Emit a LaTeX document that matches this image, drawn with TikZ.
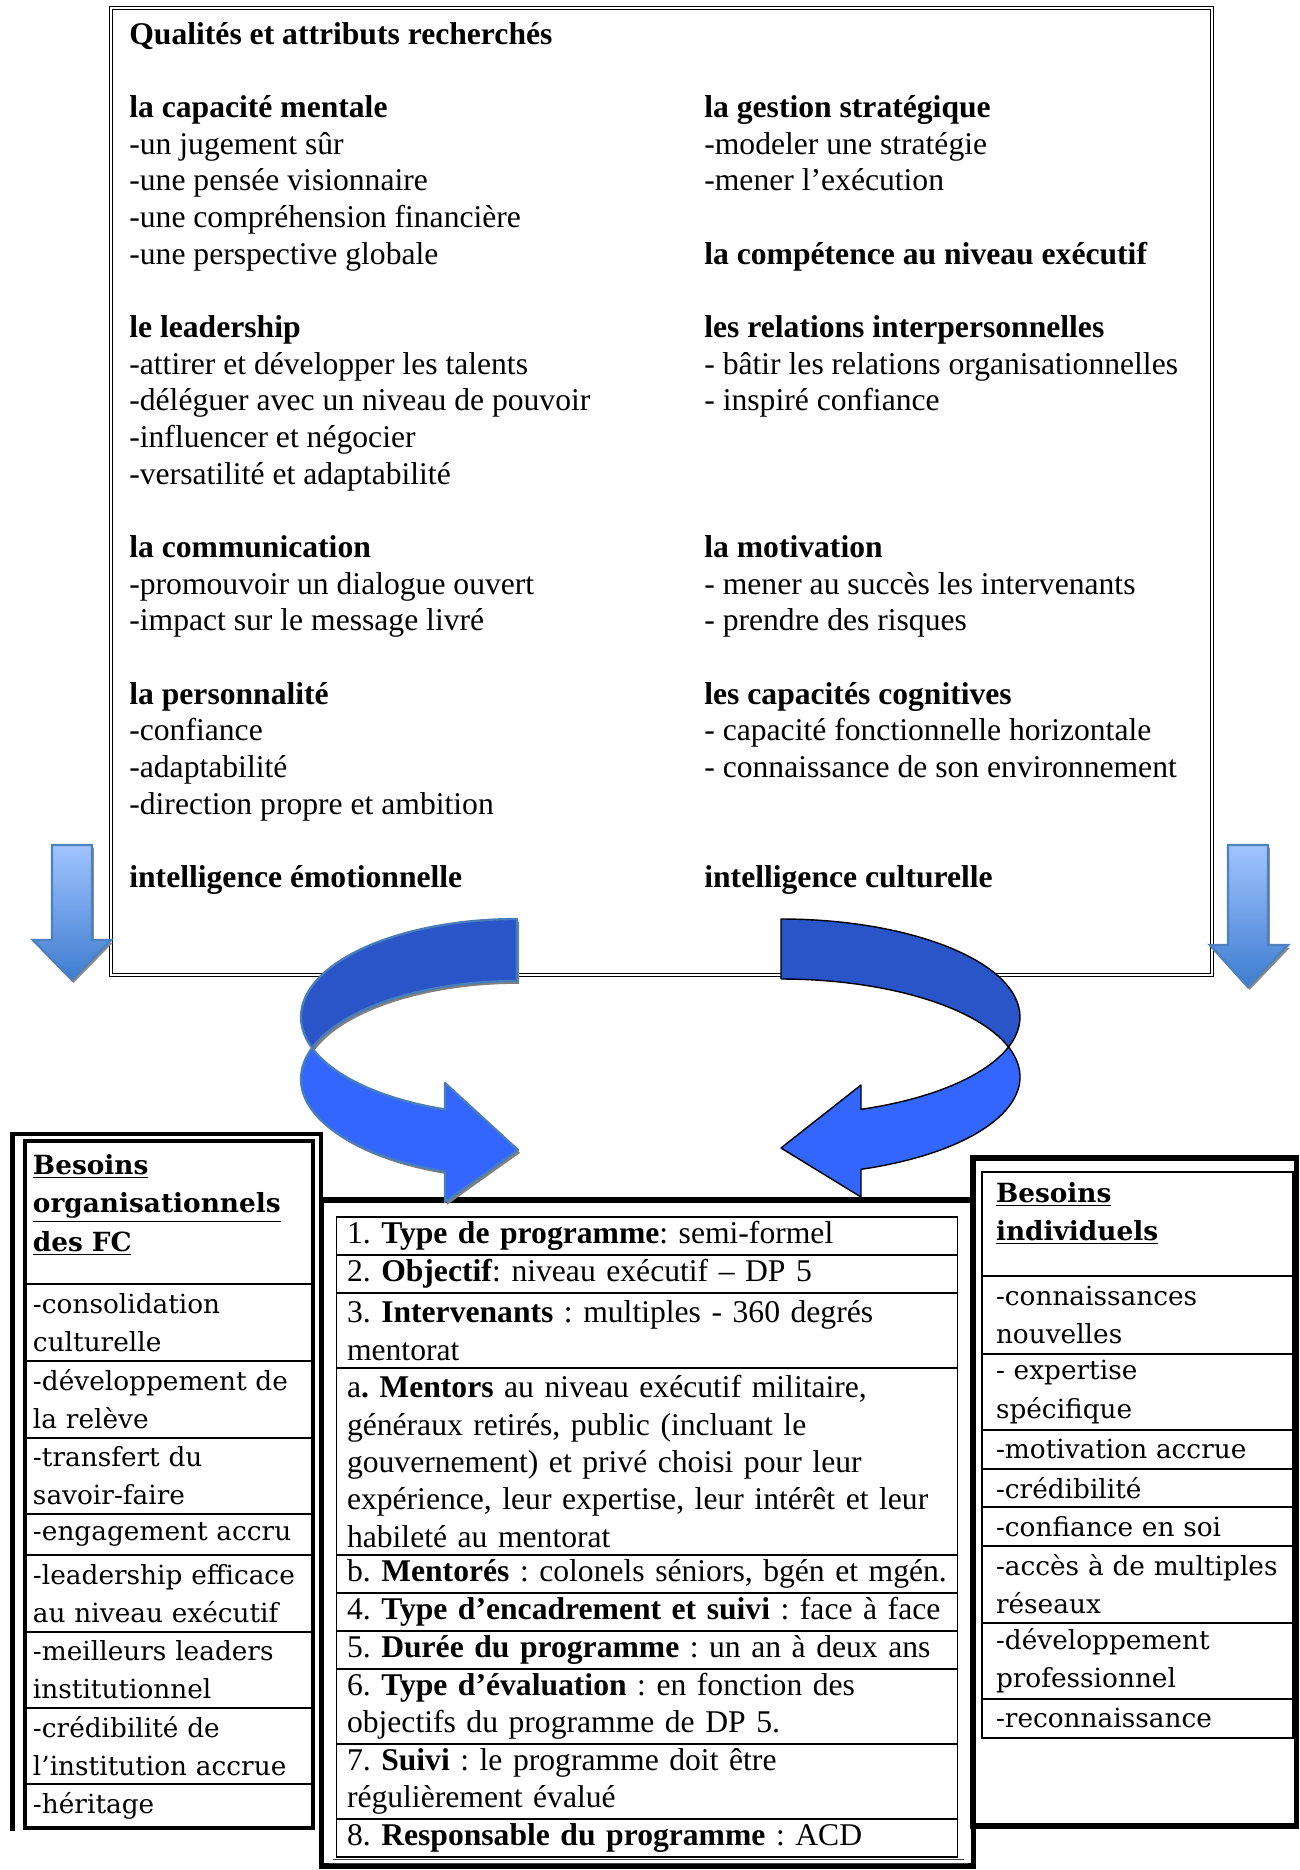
\documentclass[tikz,border=0pt]{standalone}
\usepackage{fontspec}
\setmainfont{Liberation Serif}
\newfontfamily\cambria{DejaVu Serif}
\usepackage{xcolor}
\usepackage{tikz}
\usetikzlibrary{positioning, shadows}
\frenchspacing

\definecolor{bandDark}{RGB}{42,85,201}
\definecolor{bandLight}{RGB}{51,102,255}
\definecolor{bandEdge}{RGB}{74,126,187}
\definecolor{dropTop}{RGB}{160,196,255}
\definecolor{dropBot}{RGB}{62,124,208}
\definecolor{dropEdge}{RGB}{79,129,189}

\tikzset{
  toptext/.style={anchor=base west, inner sep=0pt, align=left, font=\fontsize{18}{20.87}\selectfont},
  cell/.style={draw, line width=0.9pt, anchor=north west, inner ysep=0pt, outer sep=0pt, align=left},
  lcell/.style={cell, text width=5.44cm, inner xsep=0.16cm, font=\cambria\fontsize{15}{21.8}\selectfont},
  rcell/.style={cell, text width=5.66cm, inner xsep=0.28cm, font=\cambria\fontsize{15}{21.8}\selectfont},
  mcell/.style={cell, text width=12.0cm, inner xsep=0.21cm, font=\fontsize{18}{21.3}\selectfont},
  droparrow/.style={draw=dropEdge, line width=1.4pt, top color=dropTop, bottom color=dropBot,
    drop shadow={shadow xshift=1pt, shadow yshift=-1.6pt, fill=black!45, opacity=1}},
  leftband/.style={draw=bandEdge, line width=1.3pt, line join=round,
    drop shadow={shadow xshift=1.2pt, shadow yshift=-1.6pt, fill=black!50, opacity=1}},
  rightband/.style={draw=black, line width=0.8pt, line join=round}
}

\begin{document}
\begin{tikzpicture}[x=0.02cm, y=-0.02cm]
  % picture in pixels of the 1299x1870 page, y going down
  \useasboundingbox (0,0) rectangle (1299,1870);

  % qualities box (each group sits on the baseline of its last line)
  \draw[line width=0.7pt, double, double distance=1.3pt] (111,8) rectangle (1212,975);
  \node[toptext] (titre) at (129,44) {\textbf{Qualités et attributs recherchés}};
  \node[toptext] (cap) at (129,264.1) {\textbf{la capacité mentale}\\-un jugement sûr\\-une pensée visionnaire\\-une compréhension financière\\-une perspective globale};
  \node[toptext] (lead) at (129,484.2) {\textbf{le leadership}\\-attirer et développer les talents\\-déléguer avec un niveau de pouvoir\\-influencer et négocier\\-versatilité et adaptabilité};
  \node[toptext] (comm) at (129,630.9) {\textbf{la communication}\\-promouvoir un dialogue ouvert\\-impact sur le message livré};
  \node[toptext] (perso) at (129,814.3) {\textbf{la personnalité}\\-confiance\\-adaptabilité\\-direction propre et ambition};
  \node[toptext] (emo) at (129,887.6) {\textbf{intelligence émotionnelle}};
  \node[toptext] (gest) at (704,190.7) {\textbf{la gestion stratégique}\\-modeler une stratégie\\-mener l’exécution};
  \node[toptext] (compet) at (704,264.1) {\textbf{la compétence au niveau exécutif}};
  \node[toptext] (relat) at (704,410.8) {\textbf{les relations interpersonnelles}\\- bâtir les relations organisationnelles\\- inspiré confiance};
  \node[toptext] (motiv) at (704,630.9) {\textbf{la motivation}\\- mener au succès les intervenants\\- prendre des risques};
  \node[toptext] (cogn) at (704,777.6) {\textbf{les capacités cognitives}\\- capacité fonctionnelle horizontale\\- connaissance de son environnement};
  \node[toptext] (cult) at (704,887.6) {\textbf{intelligence culturelle}};

  % side arrows
  \draw[droparrow] (52,845) -- (92,845) -- (92,940) -- (111,940) -- (72,980) -- (33,940) -- (52,940) -- cycle;
  \draw[droparrow] (1228,845) -- (1268,845) -- (1268,945) -- (1288,945) -- (1248,987) -- (1210,945) -- (1228,945) -- cycle;

  % left box: organisational needs
  \draw[line width=2.8pt] (12.5,1831) -- (12.5,1134) -- (321,1134) -- (321,1200);
  \node[lcell, minimum height=2.86cm] (lh) at (25,1141) {\textbf{\underline{Besoins}}\\\textbf{\underline{organisationnels}}\\\textbf{\underline{des FC}}\rule[-11pt]{0pt}{0pt}};
  \node[lcell, minimum height=1.54cm, below=0pt of lh] (l1) {-consolidation\\culturelle};
  \node[lcell, minimum height=1.54cm, below=0pt of l1] (l2) {-développement de\\la relève};
  \node[lcell, minimum height=1.52cm, below=0pt of l2] (l3) {-transfert du\\savoir-faire};
  \node[lcell, minimum height=0.82cm, below=0pt of l3] (l4) {-engagement accru};
  \node[lcell, minimum height=1.54cm, below=0pt of l4] (l5) {-leadership efficace\\au niveau exécutif};
  \node[lcell, minimum height=1.52cm, below=0pt of l5] (l6) {-meilleurs leaders\\institutionnel};
  \node[lcell, minimum height=1.52cm, below=0pt of l6] (l7) {-crédibilité de\\l’institution accrue};
  \node[lcell, minimum height=0.88cm, below=0pt of l7] (l8) {-héritage};
  \draw[line width=2.3pt] (lh.north west) rectangle (l8.south east);

  % middle box: programme
  \draw[line width=3.3pt] (321.5,1200) rectangle (973.5,1866);
  \draw[black!75, line width=0.45pt, double, double distance=1.9pt] (331,1210) rectangle (966,1861.5);
  \node[mcell, minimum height=0.76cm] (m1) at (336.5,1217) {1. \textbf{Type de programme}: semi-formel};
  \node[mcell, minimum height=0.76cm, below=0pt of m1] (m2) {2. \textbf{Objectif}: niveau exécutif -- DP 5};
  \node[mcell, minimum height=1.50cm, below=0pt of m2] (m3) {3. \textbf{Intervenants} : multiples - 360 degrés\\mentorat};
  \node[mcell, minimum height=3.74cm, below=0pt of m3] (m4) {a\textbf{. Mentors} au niveau exécutif militaire,\\généraux retirés, public (incluant le\\gouvernement) et privé choisi pour leur\\expérience, leur expertise, leur intérêt et leur\\habileté au mentorat};
  \node[mcell, minimum height=0.76cm, below=0pt of m4] (m5) {b. \textbf{Mentorés} : colonels séniors, bgén et mgén.};
  \node[mcell, minimum height=0.76cm, below=0pt of m5] (m6) {4. \textbf{Type d’encadrement et suivi} : face à face};
  \node[mcell, minimum height=0.76cm, below=0pt of m6] (m7) {5. \textbf{Durée du programme} : un an à deux ans};
  \node[mcell, minimum height=1.50cm, below=0pt of m7] (m8) {6. \textbf{Type d’évaluation} : en fonction des\\objectifs du programme de DP 5.};
  \node[mcell, minimum height=1.50cm, below=0pt of m8] (m9) {7. \textbf{Suivi} : le programme doit être\\régulièrement évalué};
  \node[mcell, minimum height=0.76cm, below=0pt of m9] (m10) {8. \textbf{Responsable du programme} : ACD};

  % right box: individual needs
  \draw[line width=3pt] (973,1158) rectangle (1296.5,1826);
  \node[rcell, minimum height=2.08cm] (rh) at (982,1172) {\textbf{\underline{Besoins}}\\\textbf{\underline{individuels}}\rule[-14pt]{0pt}{0pt}};
  \node[rcell, minimum height=1.56cm, below=0pt of rh] (r1) {-connaissances\\nouvelles};
  \node[rcell, minimum height=1.52cm, below=0pt of r1] (r2) {- expertise\\spécifique};
  \node[rcell, minimum height=0.78cm, below=0pt of r2] (r3) {-motivation accrue};
  \node[rcell, minimum height=0.76cm, below=0pt of r3] (r4) {-crédibilité};
  \node[rcell, minimum height=0.78cm, below=0pt of r4] (r5) {-confiance en soi};
  \node[rcell, minimum height=1.54cm, below=0pt of r5] (r6) {-accès à de multiples\\réseaux};
  \node[rcell, minimum height=1.52cm, below=0pt of r6] (r7) {-développement\\professionnel};
  \node[rcell, minimum height=0.78cm, below=0pt of r7] (r8) {-reconnaissance};

  % curved arrow, left: back band then front band
  \draw[leftband, fill=bandDark] (517,919) arc[start angle=270, end angle=161.56, x radius=216, y radius=98]
    arc[start angle=198.44, end angle=270, x radius=216, y radius=98] -- cycle;
  \draw[leftband, fill=bandLight] (312.1,1048) arc[start angle=161.56, end angle=109.47, x radius=216, y radius=98]
    -- (445,1083) -- (518,1150) -- (445,1202) -- (445,1171.4)
    arc[start angle=109.47, end angle=198.44, x radius=216, y radius=98] -- cycle;

  % curved arrow, right
  \draw[rightband, fill=bandDark] (781,919) arc[start angle=-90, end angle=17.83, x radius=239, y radius=98]
    arc[start angle=-17.83, end angle=-90, x radius=239, y radius=98] -- cycle;
  \draw[rightband, fill=bandLight] (1008.5,1047) arc[start angle=17.83, end angle=70.44, x radius=239, y radius=98]
    -- (861,1085) -- (781,1148) -- (861,1197) -- (861,1169.3)
    arc[start angle=70.44, end angle=-17.83, x radius=239, y radius=98] -- cycle;
\end{tikzpicture}
\end{document}
